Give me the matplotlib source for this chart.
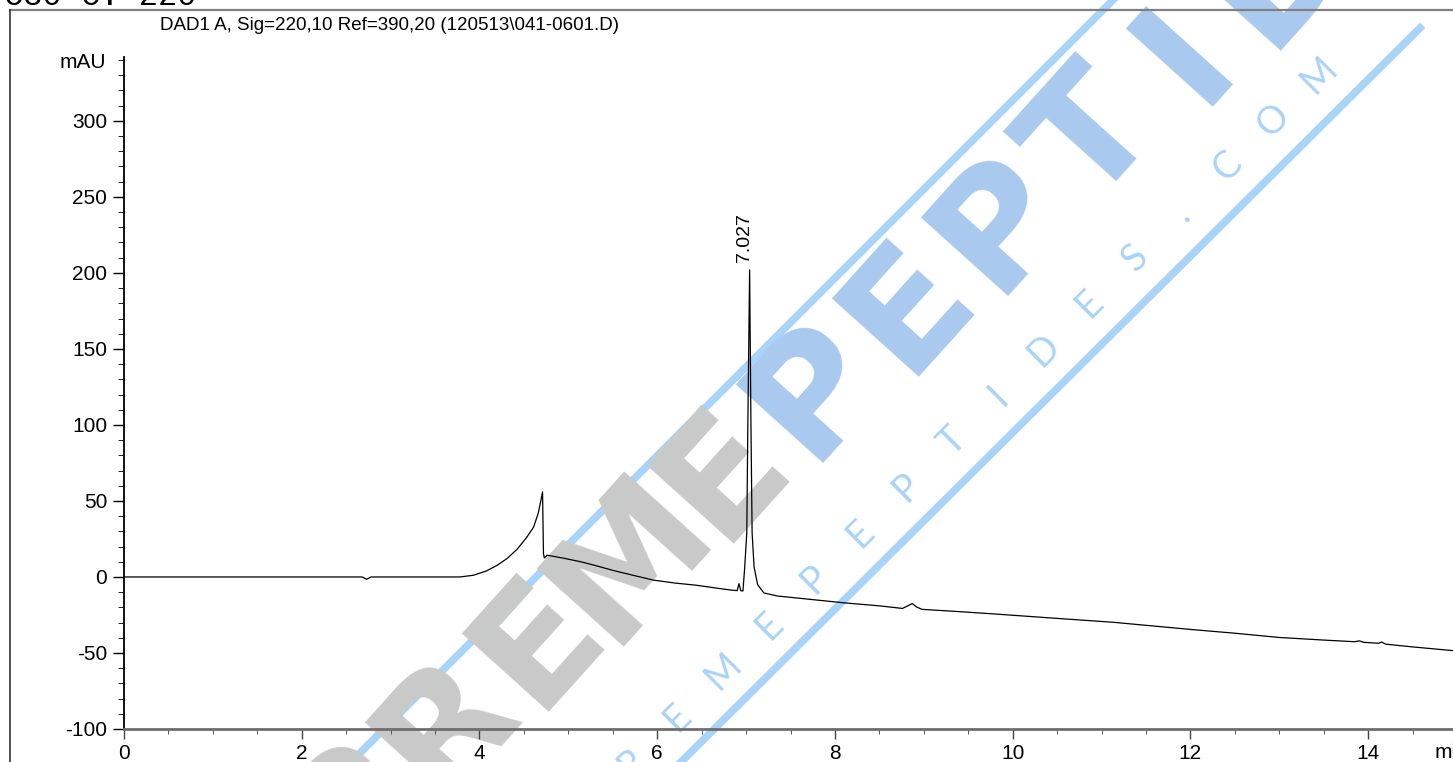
import numpy as np
import matplotlib.pyplot as plt
from matplotlib.lines import Line2D
from matplotlib.ticker import MultipleLocator

# chromatogram trace (min, mAU)
time_min = [0.0, 1.0, 2.0, 2.68, 2.73, 2.78, 3.5, 3.78, 3.93, 4.08, 4.2, 4.31, 4.42, 4.53,
            4.61, 4.66, 4.69, 4.71, 4.72, 4.73, 4.76, 4.81, 4.95, 5.14, 5.3, 5.51, 5.75,
            5.96, 6.2, 6.45, 6.65, 6.83, 6.9, 6.92, 6.94, 6.965, 6.985, 7.008, 7.02, 7.04,
            7.055, 7.068, 7.09, 7.13, 7.2, 7.35, 7.6, 8.1, 8.5, 8.76, 8.82, 8.87, 8.92,
            8.98, 9.4, 9.81, 10.44, 11.13, 12.0, 12.5, 13.0, 13.5, 13.85, 13.9, 13.95,
            14.12, 14.15, 14.2, 14.5, 15.0]
signal_mau = [0.0, 0.0, 0.0, 0.0, -1.5, 0.0, 0.0, 0.0, 1.1, 4.0, 7.7, 12.1, 18.0, 25.9,
              32.9, 41.7, 50.0, 56.0, 15.4, 12.5, 14.3, 13.8, 12.3, 10.0, 7.6, 4.2, 0.8,
              -2.1, -4.0, -5.5, -7.2, -8.6, -9.0, -4.4, -9.0, -9.2, 6.6, 29.0, 100.0, 202.0,
              100.0, 29.0, 6.6, -5.0, -10.5, -12.5, -14.0, -17.0, -19.0, -20.7, -19.0, -17.5,
              -19.8, -21.3, -22.8, -24.4, -27.0, -29.8, -34.5, -37.0, -39.8, -41.5, -42.6,
              -42.0, -43.0, -43.6, -42.8, -44.2, -46.0, -48.7]

peak_time = 7.04
peak_height = 202.0
peak_label = "7.027"

title = "DAD1 A, Sig=220,10 Ref=390,20 (120513\\041-0601.D)"
x_ticks = [0, 2, 4, 6, 8, 10, 12, 14]
y_ticks = [-100, -50, 0, 50, 100, 150, 200, 250, 300]

W, H = 1453, 762


def px(x, y):
    return x / W, 1 - y / H


plt.rcParams['font.family'] = ['Liberation Sans', 'DejaVu Sans']
plt.rcParams['axes.unicode_minus'] = False

fig = plt.figure(figsize=(W / 100, H / 100), dpi=100)
ax = fig.add_axes([124 / W, (H - 729) / H, 1333 / W, 672 / H])
ax.patch.set_alpha(0)

ax.plot(time_min, signal_mau, color='black', lw=0.9, zorder=3)
ax.annotate(peak_label, xy=(peak_time, peak_height), xytext=(-4, 6),
            textcoords='offset points', rotation=90, ha='center', va='bottom', fontsize=14)

ax.set_xlim(0, 15)
ax.set_ylim(-100, 342)
ax.set_xticks(x_ticks)
ax.set_yticks(y_ticks)
ax.xaxis.set_minor_locator(MultipleLocator(0.5))
ax.yaxis.set_minor_locator(MultipleLocator(10))
ax.tick_params(axis='both', which='major', labelsize=15, direction='out', width=1)
ax.tick_params(axis='x', which='major', length=7.5, pad=3, color='#444444')
ax.tick_params(axis='x', which='minor', length=3.5, color='#444444')
ax.tick_params(axis='y', which='major', length=8, pad=4)
ax.tick_params(axis='y', which='minor', length=4)
for s in ['top', 'right']:
    ax.spines[s].set_visible(False)
ax.spines['left'].set_linewidth(1.3)
ax.spines['bottom'].set_color('#6e6e6e')
ax.spines['bottom'].set_linewidth(2)

ax.annotate('mAU', xy=(0, 1), xycoords='axes fraction', xytext=(-13, -4),
            textcoords='offset points', ha='right', va='center', fontsize=15)
ax.annotate('min', xy=(14.75, 0), xycoords=('data', 'axes fraction'), xytext=(0, -10),
            textcoords='offset points', ha='left', va='top', fontsize=15)

# page frame and header
fig.add_artist(Line2D([10 / W, 1], [1 - 10 / H, 1 - 10 / H], color='#808080', lw=1.6))
fig.add_artist(Line2D([10 / W, 10 / W], [0, 1 - 10 / H], color='#333333', lw=1.2))
fig.text(*px(160, 25), title, ha='left', va='center', fontsize=13.5)
fig.text(*px(4, 5), 'C30 C: 220', ha='left', va='baseline', fontsize=23,
         family='Liberation Mono')

# watermark
blue = '#a9d3f8'
fig.add_artist(Line2D(*zip(px(350, 763), px(1113, 0)), color=blue, lw=5.5, zorder=-2))
fig.add_artist(Line2D(*zip(px(680, 763), px(1420, 28)), color=blue, lw=5.5, zorder=-2))

big = 'SUPREMEPEPTIDES'
for i, ch in enumerate(big):
    cx = 1185 + (i - 11) * 92.5
    cy = 55 - (i - 11) * 83.75
    fig.text(*px(cx, cy), ch, rotation=48, rotation_mode='anchor', ha='center',
             va='center', fontsize=116, fontweight='bold', family='DejaVu Sans',
             color='#c9c9c9' if i < 7 else '#a9c9ef', zorder=-1)

small = 'SUPREMEPEPTIDES.COM'
for i, ch in enumerate(small):
    cx = 722 + (i - 5) * 45.8 + 9
    cy = 670 - (i - 5) * 45.9 + 9
    fig.text(*px(cx, cy), ch, rotation=45, rotation_mode='anchor', ha='center',
             va='baseline', fontsize=27, color=blue, family=['Lato', 'DejaVu Sans'],
             zorder=-1)

fig.savefig('out.png', dpi=100)
